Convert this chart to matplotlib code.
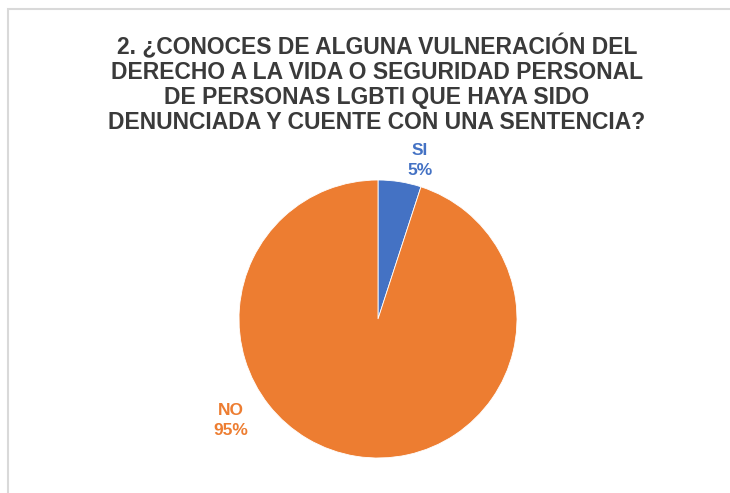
import matplotlib.pyplot as plt
from matplotlib.patches import Rectangle

# datos del gráfico
categorias = ['SI', 'NO']
porcentajes = [5, 95]
colores = ['#4472C4', '#ED7D31']
titulo = ('2. ¿CONOCES DE ALGUNA VULNERACIÓN DEL\n'
          'DERECHO A LA VIDA O SEGURIDAD PERSONAL\n'
          'DE PERSONAS LGBTI QUE HAYA SIDO\n'
          'DENUNCIADA Y CUENTE CON UNA SENTENCIA?')

fuente = ['Liberation Sans Narrow', 'Liberation Sans', 'DejaVu Sans']

W, H = 730, 493
fig = plt.figure(figsize=(W / 100, H / 100), dpi=100)
fig.patch.set_facecolor('white')

# borde del área del gráfico
fig.add_artist(Rectangle((8 / W, -0.05), 1.2, 1 - 9 / H + 0.05,
                         transform=fig.transFigure, fill=False,
                         edgecolor='#d9d9d9', linewidth=1.5))

# título
fig.text(377 / W, 1 - 84 / H, titulo, ha='center', va='center',
         fontsize=16.5, fontweight='bold', color='#3a3a3a',
         family=fuente, linespacing=1.12)

# pastel
cx, cy, r = 378, 319, 139
ax = fig.add_axes([(cx - r) / W, (H - cy - r) / H, 2 * r / W, 2 * r / H])
ax.pie(porcentajes, colors=colores, startangle=90, counterclock=False,
       wedgeprops=dict(edgecolor='white', linewidth=0.6))
ax.set_xlim(-1, 1)
ax.set_ylim(-1, 1)
ax.set_aspect('equal')
ax.axis('off')

# etiquetas de datos
pos_etiquetas = [(0.30, 1.14), (-1.06, -0.73)]
for cat, val, col, (x, y) in zip(categorias, porcentajes, colores, pos_etiquetas):
    ax.text(x, y, f'{cat}\n{val}%', ha='center', va='center', color=col,
            fontsize=12.5, fontweight='bold', family=fuente,
            linespacing=1.4, clip_on=False)

fig.savefig('out.png', dpi=100, facecolor='white')
